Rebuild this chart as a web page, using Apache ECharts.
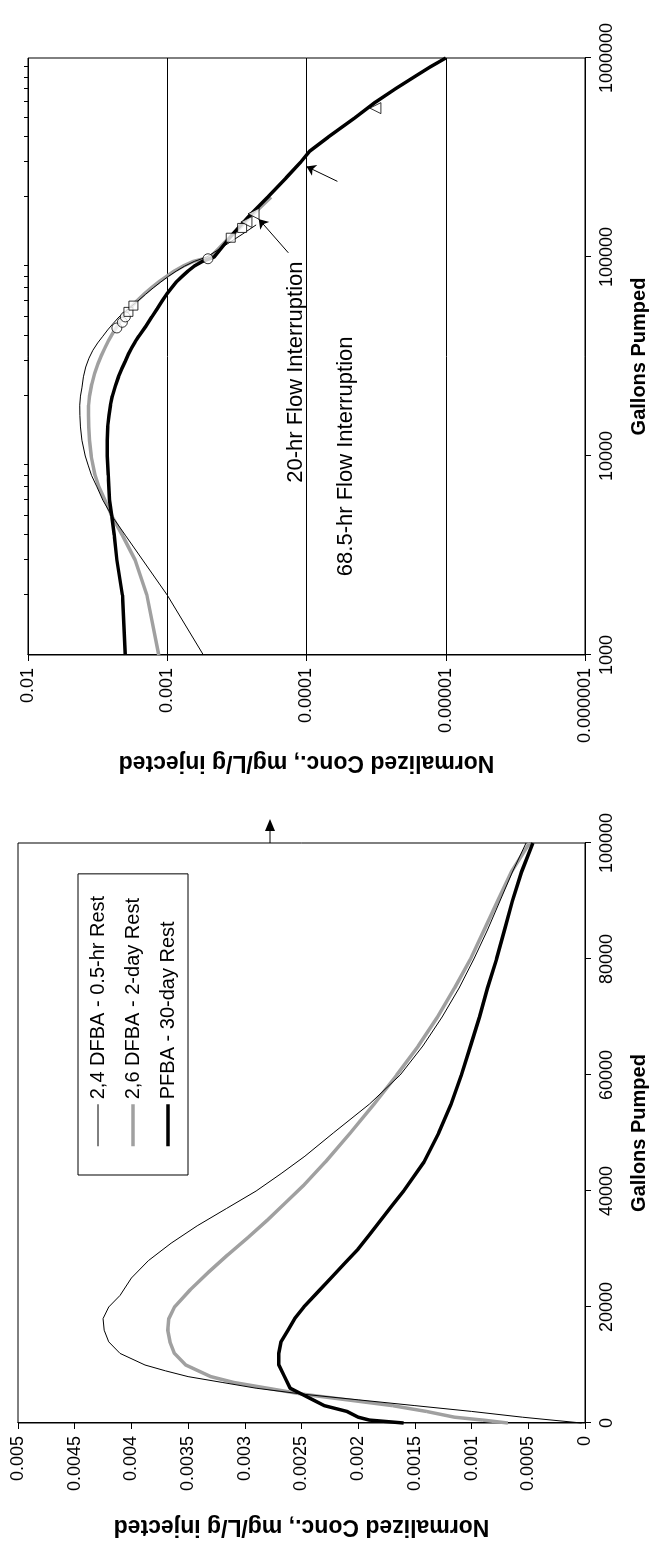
<!DOCTYPE html>
<html>
<head>
<meta charset="utf-8">
<script src="https://cdn.jsdelivr.net/npm/echarts@6/dist/echarts.min.js"></script>
<style>
  html, body { margin: 0; padding: 0; background: #fff; overflow: hidden; }
  body { width: 654px; height: 1543px; position: relative; }
  /* chart is laid out landscape and turned a quarter turn counter-clockwise */
  #wrap {
    position: absolute; left: 0; top: 0;
    width: 1543px; height: 654px;
    transform-origin: 0 0;
    transform: translate(0, 1543px) rotate(-90deg);
  }
  #chart { width: 1543px; height: 654px; }
</style>
</head>
<body>
<div id="wrap"><div id="chart"></div></div>
<script>
// ---- data (gallons pumped, normalized conc.) ----
const seriesNames = ["2,4 DFBA - 0.5-hr Rest", "2,6 DFBA - 2-day Rest", "PFBA - 30-day Rest"];

const thinGal = [0, 1000, 2000, 3000, 4000, 5000, 6000, 7000, 8000, 9000, 10000, 12000, 14000, 16000, 18000, 20000, 22000, 25000, 28000, 31000, 34000, 37000, 40000, 43000, 46000, 50000, 55000, 60000, 65000, 70000, 75000, 80000, 85000, 90000, 95000, 100000, 115000, 130000, 145000];
const thinConc = [0.00003, 0.00055, 0.001, 0.0015, 0.002, 0.0025, 0.0029, 0.0032, 0.0035, 0.0037, 0.00388, 0.0041, 0.0042, 0.00424, 0.00425, 0.0042, 0.0041, 0.004, 0.00385, 0.00365, 0.00342, 0.00316, 0.0029, 0.00268, 0.00247, 0.00222, 0.0019, 0.00163, 0.00143, 0.00126, 0.00111, 0.00098, 0.00086, 0.00075, 0.00064, 0.00052, 0.00038, 0.00029, 0.00023];

const grayGal = [0, 500, 1000, 2000, 3000, 4000, 5000, 6000, 7000, 8000, 10000, 12000, 14000, 16000, 18000, 20000, 23000, 26000, 29000, 32000, 35000, 38000, 41000, 45000, 50000, 55000, 60000, 65000, 70000, 75000, 80000, 85000, 90000, 95000, 100000, 120000, 140000, 160000, 180000, 200000];
const grayConc = [0.00068, 0.0009, 0.00115, 0.0014, 0.0017, 0.0021, 0.0025, 0.0028, 0.0031, 0.0033, 0.00352, 0.00362, 0.00366, 0.00368, 0.00367, 0.00362, 0.00348, 0.00332, 0.00315, 0.00297, 0.0028, 0.00264, 0.00248, 0.00229, 0.00207, 0.00186, 0.00166, 0.00147, 0.0013, 0.00115, 0.00101, 0.00089, 0.00077, 0.00065, 0.00049, 0.00038, 0.0003, 0.00025, 0.00021, 0.00018];

const blackGal = [0, 500, 1000, 2000, 3000, 4000, 5000, 6000, 8000, 10000, 12000, 14000, 16000, 18000, 20000, 22500, 25000, 27500, 30000, 32500, 35000, 37500, 40000, 45000, 50000, 55000, 60000, 65000, 70000, 75000, 80000, 85000, 90000, 95000, 100000, 130000, 160000, 200000, 250000, 300000, 340000, 400000, 500000, 600000, 700000, 800000, 900000, 1000000];
const blackConc = [0.0016, 0.0019, 0.002, 0.0021, 0.0023, 0.0024, 0.0025, 0.0026, 0.00265, 0.0027, 0.0027, 0.00268, 0.00262, 0.00256, 0.00248, 0.00236, 0.00224, 0.00212, 0.002, 0.0019, 0.0018, 0.0017, 0.0016, 0.00142, 0.00129, 0.00118, 0.00109, 0.00101, 0.00093, 0.00086, 0.00078, 0.00071, 0.00064, 0.00056, 0.00046, 0.00034, 0.00026, 0.00019, 0.00014, 0.00011, 0.000095, 0.00007, 0.000045, 0.000032, 0.000023, 0.000017, 0.000013, 0.00001];

// flow interruption markers on the log plot
const circleGal = [44000, 47000, 50000, 98000];
const circleConc = [0.0023, 0.0021, 0.0020, 0.00051];
const squareGal = [53000, 57000, 125000, 140000];
const squareConc = [0.0019, 0.00175, 0.00035, 0.00029];
const triangleGal = [150000, 165000, 560000];
const triangleConc = [0.00027, 0.00024, 0.000032];

// tick labels
const linGalTicks = [0, 20000, 40000, 60000, 80000, 100000];
const logConcLabels = ["0.000001", "0.00001", "0.0001", "0.001", "0.01"];
const minorGalTicks = [2000, 3000, 4000, 5000, 6000, 7000, 8000, 9000,
  20000, 30000, 40000, 50000, 60000, 70000, 80000, 90000,
  200000, 300000, 400000, 500000, 600000, 700000, 800000, 900000];

const FONT = "Liberation Sans, Arial, sans-serif";

function pairs(gal, conc, lo, hi) {
  const out = [];
  for (let i = 0; i < gal.length; i++) {
    if (gal[i] >= lo && gal[i] <= hi) out.push([gal[i], conc[i]]);
  }
  return out;
}

const styles = [
  { color: "#000", width: 1, z: 4 },
  { color: "#a0a0a0", width: 3.5, z: 2 },
  { color: "#000", width: 3.5, z: 3 }
];
const gals = [thinGal, grayGal, blackGal];
const concs = [thinConc, grayConc, blackConc];

const axisLine = { lineStyle: { color: "#000", width: 1 } };
const tick = { show: true, inside: false, length: 6, lineStyle: { color: "#000" } };
const label = { color: "#000", fontSize: 18, fontFamily: FONT, margin: 13 };
const nameStyle = { color: "#000", fontSize: 20, fontWeight: "bold", fontFamily: FONT };
const yNameStyle = { color: "#000", fontSize: 23, fontWeight: "bold", fontFamily: FONT };

const series = [];
for (let k = 0; k < 3; k++) {
  series.push({
    name: seriesNames[k], type: "line", xAxisIndex: 0, yAxisIndex: 0,
    symbol: "none", z: styles[k].z,
    lineStyle: { color: styles[k].color, width: styles[k].width },
    itemStyle: { color: styles[k].color },
    data: pairs(gals[k], concs[k], 0, 100000)
  });
  series.push({
    name: seriesNames[k], type: "line", xAxisIndex: 1, yAxisIndex: 1,
    symbol: "none", z: styles[k].z,
    lineStyle: { color: styles[k].color, width: styles[k].width },
    itemStyle: { color: styles[k].color },
    data: pairs(gals[k], concs[k], 1000, 1000000)
  });
}
const markerStyle = { color: "#fff", borderColor: "#000", borderWidth: 1 };
series.push({ type: "scatter", xAxisIndex: 1, yAxisIndex: 1, symbol: "circle", symbolSize: 10, z: 6,
  itemStyle: markerStyle, data: pairs(circleGal, circleConc, 1000, 1000000) });
series.push({ type: "scatter", xAxisIndex: 1, yAxisIndex: 1, symbol: "rect", symbolSize: 9, z: 6,
  itemStyle: markerStyle, data: pairs(squareGal, squareConc, 1000, 1000000) });
series.push({ type: "scatter", xAxisIndex: 1, yAxisIndex: 1, symbol: "triangle", symbolSize: 11, z: 6,
  itemStyle: markerStyle, data: pairs(triangleGal, triangleConc, 1000, 1000000),
  markLine: {
    silent: true, symbol: ["none", "arrow"], symbolSize: 9,
    lineStyle: { color: "#000", width: 1, type: "solid" }, label: { show: false },
    data: [
      [{ coord: [105000, 0.000135] }, { coord: [155000, 0.00022] }],
      [{ coord: [240000, 0.00006] }, { coord: [285000, 0.0001] }]
    ]
  },
  markPoint: {
    silent: true, symbol: "circle", symbolSize: 1, itemStyle: { color: "rgba(0,0,0,0)" },
    label: { show: true, position: "left", distance: 4, color: "#000", fontSize: 22, fontFamily: FONT },
    data: [
      { coord: [100000, 0.00012], label: { formatter: "20-hr Flow Interruption" } },
      { coord: [42000, 0.000052], label: { formatter: "68.5-hr Flow Interruption" } }
    ]
  }
});

const legendData = seriesNames.map((n, k) => ({
  name: n,
  lineStyle: { color: styles[k].color, width: styles[k].width }
}));

const option = {
  animation: false,
  backgroundColor: "#fff",
  legend: {
    data: legendData,
    orient: "vertical",
    left: 368, top: 78,
    padding: [10, 22, 10, 27],
    itemWidth: 42, itemHeight: 20, itemGap: 15,
    borderColor: "#000", borderWidth: 1,
    itemStyle: { color: "rgba(0,0,0,0)", borderWidth: 0 },
    textStyle: { color: "#000", fontSize: 20, fontFamily: FONT }
  },
  grid: [
    { left: 120, top: 18, width: 580, height: 567, show: true, borderColor: "#000", borderWidth: 1 },
    { left: 888, top: 28, width: 597, height: 559, show: true, borderColor: "#000", borderWidth: 1 }
  ],
  xAxis: [
    { type: "value", gridIndex: 0, min: 0, max: 100000, interval: 20000,
      axisLine: axisLine, axisTick: tick, splitLine: { show: false },
      axisLabel: Object.assign({}, label, { formatter: v => linGalTicks.includes(v) ? String(v) : "" }),
      name: "Gallons Pumped", nameLocation: "middle", nameGap: 44, nameTextStyle: nameStyle },
    { type: "log", logBase: 10, gridIndex: 1, min: 1000, max: 1000000,
      axisLine: axisLine, axisTick: tick, splitLine: { show: false },
      axisLabel: Object.assign({}, label, { formatter: v => String(Math.round(v)) }),
      name: "Gallons Pumped", nameLocation: "middle", nameGap: 44, nameTextStyle: nameStyle },
    { type: "log", logBase: 10, gridIndex: 1, min: 1000, max: 1000000,
      axisLine: { show: false }, axisLabel: { show: false }, splitLine: { show: false },
      axisTick: { show: true, inside: false, length: 4, lineStyle: { color: "#000" }, customValues: minorGalTicks } }
  ],
  yAxis: [
    { type: "value", gridIndex: 0, min: 0, max: 0.005, interval: 0.0005,
      axisLine: axisLine, axisTick: tick, splitLine: { show: false },
      axisLabel: Object.assign({}, label, { formatter: v => String(+v.toFixed(4)) }),
      name: "Normalized Conc., mg/L/g injected", nameLocation: "middle", nameRotate: 90, nameGap: 92,
      nameTextStyle: yNameStyle },
    { type: "log", logBase: 10, gridIndex: 1, min: 0.000001, max: 0.01,
      axisLine: axisLine, axisTick: tick,
      splitLine: { show: true, lineStyle: { color: "#000", width: 1 } },
      axisLabel: Object.assign({}, label, { formatter: v => logConcLabels[Math.round(Math.log10(v)) + 6] || "" }),
      name: "Normalized Conc., mg/L/g injected", nameLocation: "middle", nameRotate: 90, nameGap: 96,
      nameTextStyle: yNameStyle }
  ],
  series: series,
  graphic: [
    // arrow from the linear plot toward the log plot
    { type: "line", shape: { x1: 700, y1: 270, x2: 712, y2: 270 }, style: { stroke: "#000", lineWidth: 1 } },
    { type: "polygon", shape: { points: [[712, 265], [724, 270], [712, 275]] }, style: { fill: "#000" } }
  ]
};

const myChart = echarts.init(document.getElementById("chart"));
myChart.setOption(option);
</script>
</body>
</html>
